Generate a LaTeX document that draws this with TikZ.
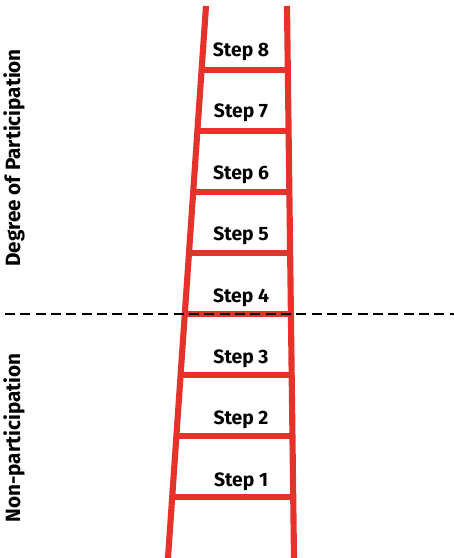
\documentclass[tikz,border=0pt]{standalone}
\usepackage{fontspec}
\setmainfont{Fira Sans}
\definecolor{ladderRed}{HTML}{E5322B}
\usetikzlibrary{calc}

\begin{document}
\begin{tikzpicture}[x=0.75pt, y=-0.75pt,
    rail/.style={ladderRed, line width=4.6pt},
    rung/.style={ladderRed, line width=4.6pt},
    divider/.style={black, line width=1.7pt, dash pattern=on 7.5pt off 4pt},
    steplabel/.style={font=\fontsize{14.5}{16}\selectfont\bfseries, inner sep=0pt},
    sidelabel/.style={font=\fontsize{15.5}{17}\selectfont\bfseries, inner sep=0pt, rotate=90}]
    \useasboundingbox (0,0) rectangle (454,558);

    % Rails
    \coordinate (lt) at (206,6);
    \coordinate (lb) at (168,558);
    \coordinate (rt) at (287,6);
    \coordinate (rb) at (294,558);
    \draw[rail] (lt) -- (lb);
    \draw[rail] (rt) -- (rb);

    % Rungs and step labels
    \foreach \n/\y in {8/70, 7/131, 6/192, 5/253, 4/314, 3/375, 2/436, 1/497} {
        \coordinate (l\n) at ($(lt)!{(\y-6)/552}!(lb)$);
        \coordinate (r\n) at ($(rt)!{(\y-6)/552}!(rb)$);
        \draw[rung] (l\n) -- (r\n);
        \node[steplabel] (s\n) at (241,{481.5-(\n-1)*61.4}) {Step \n};
    }

    % Divider
    \coordinate (dl) at (5,314);
    \coordinate (dr) at (454,314);
    \draw[divider] (dl) -- (dr);

    % Side labels
    \node[sidelabel] (deg) at (14,158) {Degree of Participation};
    \node[sidelabel] (non) at (14,438) {Non-participation};
\end{tikzpicture}
\end{document}
